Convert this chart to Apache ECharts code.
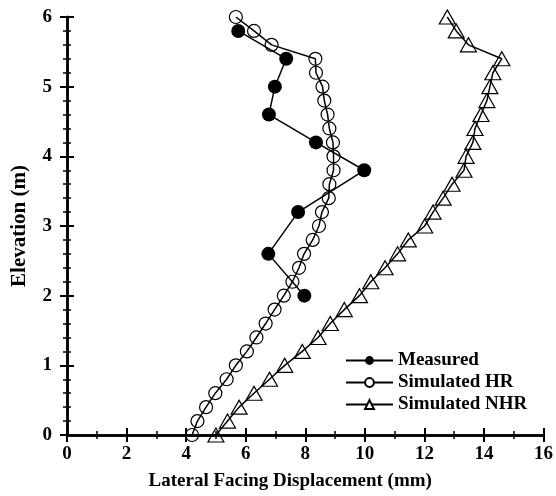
<!DOCTYPE html>
<html>
<head>
<meta charset="utf-8">
<script src="https://cdn.jsdelivr.net/npm/echarts@6/dist/echarts.min.js"></script>
<style>
html,body{margin:0;padding:0;background:#fff;}
#chart{width:556px;height:496px;}
</style>
</head>
<body>
<div id="chart"></div>
<script>
var measuredElev = [5.8, 5.4, 5.0, 4.6, 4.2, 3.8, 3.2, 2.6, 2.0];
var measuredDisp = [5.75, 7.36, 6.98, 6.78, 8.36, 9.98, 7.76, 6.76, 7.97];

var simElev = [0.0,0.2,0.4,0.6,0.8,1.0,1.2,1.4,1.6,1.8,2.0,2.2,2.4,2.6,2.8,3.0,3.2,3.4,3.6,3.8,4.0,4.2,4.4,4.6,4.8,5.0,5.2,5.4,5.6,5.8,6.0];
var hrDisp = [4.2,4.38,4.67,4.98,5.36,5.67,6.04,6.36,6.67,6.97,7.28,7.57,7.79,7.96,8.25,8.46,8.56,8.79,8.81,8.95,8.95,8.93,8.81,8.75,8.64,8.58,8.36,8.34,6.87,6.28,5.67];
var nhrDisp = [5.0,5.39,5.78,6.28,6.8,7.31,7.9,8.43,8.84,9.31,9.82,10.2,10.68,11.1,11.46,12.01,12.29,12.63,12.93,13.33,13.4,13.63,13.7,13.9,14.1,14.2,14.3,14.6,13.48,13.07,12.77];

var seriesNames = ['Measured', 'Simulated HR', 'Simulated NHR'];
var xName = 'Lateral Facing Displacement (mm)';
var yName = 'Elevation (m)';

function pairs(xs, ys) { return xs.map(function (v, i) { return [v, ys[i]]; }); }

var font = '"Liberation Serif", "Times New Roman", serif';
var black = '#000';
var fs = 19;

var chart = echarts.init(document.getElementById('chart'), null, {renderer: 'canvas'});
var tickCommon = {
  axisLine: {show: true, lineStyle: {color: black, width: 2.5}},
  axisTick: {show: true, inside: true, length: 7, lineStyle: {color: black, width: 2}},
  splitLine: {show: false}
};
function ax(extra) { return Object.assign({}, JSON.parse(JSON.stringify(tickCommon)), extra); }

chart.setOption({
  animation: false,
  backgroundColor: '#fff',
  grid: {left: 67, right: 9, top: 17, bottom: 61, containLabel: false},
  legend: {
    orient: 'vertical',
    left: 345,
    top: 350,
    itemWidth: 47,
    itemHeight: 11,
    itemGap: 1,
    padding: 0,
    textStyle: {fontFamily: font, fontWeight: 'bold', fontSize: fs, color: black, lineHeight: 21},
    data: [
      {name: seriesNames[0]},
      {name: seriesNames[1], itemStyle: {color: '#fff'}},
      {name: seriesNames[2], itemStyle: {color: '#fff'}}
    ]
  },
  xAxis: [
    ax({type: 'value', position: 'bottom', min: 0, max: 16, interval: 2,
      minorTick: {show: true, splitNumber: 2, length: 4, lineStyle: {color: black, width: 1.5}},
      name: xName, nameLocation: 'middle', nameGap: 37,
      nameTextStyle: {fontFamily: font, fontWeight: 'bold', fontSize: fs, color: black, padding: [0, 30, 0, 0]},
      axisLabel: {fontFamily: font, fontWeight: 'bold', fontSize: fs, color: black, margin: 10}}),
    ax({type: 'value', position: 'top', min: 0, max: 16, interval: 2,
      minorTick: {show: true, splitNumber: 2, length: 4, lineStyle: {color: black, width: 1.5}},
      axisLabel: {show: false}})
  ],
  yAxis: [
    ax({type: 'value', position: 'left', min: 0, max: 6, interval: 1,
      minorTick: {show: true, splitNumber: 5, length: 4, lineStyle: {color: black, width: 1.5}},
      name: yName, nameLocation: 'middle', nameGap: 37, nameRotate: 90,
      nameTextStyle: {fontFamily: font, fontWeight: 'bold', fontSize: 21, color: black},
      axisLabel: {fontFamily: font, fontWeight: 'bold', fontSize: fs, color: black, margin: 15}}),
    ax({type: 'value', position: 'right', min: 0, max: 6, interval: 1,
      minorTick: {show: true, splitNumber: 5, length: 4, lineStyle: {color: black, width: 1.5}},
      axisLabel: {show: false}})
  ],
  series: [
    {
      name: seriesNames[1], type: 'line', xAxisIndex: 0, yAxisIndex: 0,
      data: pairs(hrDisp, simElev),
      symbol: 'circle', symbolSize: 13,
      lineStyle: {color: black, width: 1.5},
      itemStyle: {color: 'rgba(255,255,255,0)', borderColor: black, borderWidth: 1.2},
      z: 2
    },
    {
      name: seriesNames[2], type: 'line', xAxisIndex: 0, yAxisIndex: 0,
      data: pairs(nhrDisp, simElev),
      symbol: 'triangle', symbolSize: [16, 14],
      lineStyle: {color: black, width: 1.5},
      itemStyle: {color: 'rgba(255,255,255,0)', borderColor: black, borderWidth: 1.2},
      z: 2
    },
    {
      name: seriesNames[0], type: 'line', xAxisIndex: 0, yAxisIndex: 0,
      data: pairs(measuredDisp, measuredElev),
      symbol: 'circle', symbolSize: 14,
      lineStyle: {color: black, width: 1.5},
      itemStyle: {color: black, borderColor: black, borderWidth: 0},
      z: 3
    }
  ]
});
</script>
</body>
</html>
